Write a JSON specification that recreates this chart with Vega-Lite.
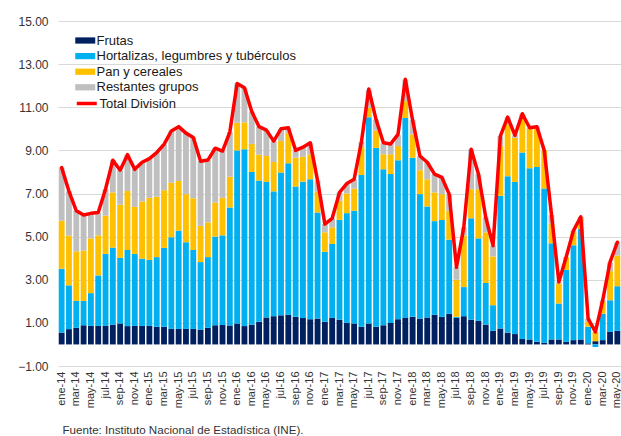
{
  "$schema": "https://vega.github.io/schema/vega-lite/v6.json",
  "width": 563,
  "height": 345,
  "autosize": {"type": "none"},
  "padding": {"left": 58, "top": 21, "right": 0, "bottom": 70},
  "background": "white",
  "config": {
    "view": {"stroke": null},
    "font": "Liberation Sans",
    "axis": {"labelFont": "Liberation Sans", "titleFont": "Liberation Sans"},
    "legend": {"labelFont": "Liberation Sans"}
  },
  "data": {"values": [
    {"m":"ene-14","F":0.55,"H":2.96,"P":2.23,"R":2.46,"T":8.2},
    {"m":"feb-14","F":0.71,"H":2.03,"P":2.31,"R":2.05,"T":7.1},
    {"m":"mar-14","F":0.77,"H":1.25,"P":2.30,"R":1.88,"T":6.2},
    {"m":"abr-14","F":0.89,"H":1.13,"P":2.33,"R":1.65,"T":6.0},
    {"m":"may-14","F":0.86,"H":1.52,"P":2.54,"R":1.16,"T":6.08},
    {"m":"jun-14","F":0.86,"H":2.34,"P":1.86,"R":1.06,"T":6.12},
    {"m":"jul-14","F":0.86,"H":3.34,"P":1.77,"R":1.23,"T":7.2},
    {"m":"ago-14","F":0.92,"H":3.57,"P":2.56,"R":1.49,"T":8.54},
    {"m":"sep-14","F":0.97,"H":3.05,"P":2.46,"R":1.6,"T":8.08},
    {"m":"oct-14","F":0.85,"H":3.53,"P":2.74,"R":1.68,"T":8.8},
    {"m":"nov-14","F":0.86,"H":3.34,"P":2.18,"R":1.74,"T":8.12},
    {"m":"dic-14","F":0.86,"H":3.12,"P":2.65,"R":1.82,"T":8.45},
    {"m":"ene-15","F":0.86,"H":3.06,"P":2.88,"R":1.82,"T":8.62},
    {"m":"feb-15","F":0.82,"H":3.23,"P":2.8,"R":2.05,"T":8.9},
    {"m":"mar-15","F":0.82,"H":3.66,"P":2.67,"R":2.13,"T":9.28},
    {"m":"abr-15","F":0.72,"H":4.25,"P":2.53,"R":2.4,"T":9.9},
    {"m":"may-15","F":0.72,"H":4.56,"P":2.3,"R":2.52,"T":10.1},
    {"m":"jun-15","F":0.72,"H":4.02,"P":2.23,"R":2.83,"T":9.8},
    {"m":"jul-15","F":0.72,"H":3.66,"P":2.4,"R":2.82,"T":9.6},
    {"m":"ago-15","F":0.69,"H":3.13,"P":1.68,"R":3.0,"T":8.5},
    {"m":"sep-15","F":0.77,"H":3.28,"P":1.61,"R":2.89,"T":8.55},
    {"m":"oct-15","F":0.89,"H":4.11,"P":1.58,"R":2.52,"T":9.1},
    {"m":"nov-15","F":0.9,"H":4.16,"P":1.74,"R":2.17,"T":8.97},
    {"m":"dic-15","F":0.88,"H":5.47,"P":1.43,"R":2.07,"T":9.85},
    {"m":"ene-16","F":0.97,"H":8.03,"P":1.28,"R":1.82,"T":12.1},
    {"m":"feb-16","F":0.85,"H":8.2,"P":1.25,"R":1.6,"T":11.9},
    {"m":"mar-16","F":0.92,"H":7.08,"P":1.3,"R":1.5,"T":10.8},
    {"m":"abr-16","F":1.05,"H":6.55,"P":1.2,"R":1.3,"T":10.1},
    {"m":"may-16","F":1.25,"H":6.29,"P":1.2,"R":1.2,"T":9.94},
    {"m":"jun-16","F":1.31,"H":5.79,"P":1.36,"R":0.97,"T":9.43},
    {"m":"jul-16","F":1.35,"H":6.62,"P":1.46,"R":0.57,"T":10.0},
    {"m":"ago-16","F":1.38,"H":7.02,"P":1.4,"R":0.25,"T":10.05},
    {"m":"sep-16","F":1.28,"H":6.04,"P":1.34,"R":0.34,"T":9.0},
    {"m":"oct-16","F":1.23,"H":6.32,"P":1.15,"R":0.45,"T":9.15},
    {"m":"nov-16","F":1.17,"H":6.49,"P":1.16,"R":0.53,"T":9.35},
    {"m":"dic-16","F":1.2,"H":4.92,"P":0.96,"R":0.52,"T":7.6},
    {"m":"ene-17","F":1.05,"H":3.25,"P":0.9,"R":0.38,"T":5.58},
    {"m":"feb-17","F":1.23,"H":3.43,"P":0.77,"R":0.42,"T":5.85},
    {"m":"mar-17","F":1.15,"H":4.63,"P":0.88,"R":0.39,"T":7.05},
    {"m":"abr-17","F":1.0,"H":5.09,"P":0.91,"R":0.46,"T":7.46},
    {"m":"may-17","F":0.97,"H":5.23,"P":1.03,"R":0.43,"T":7.66},
    {"m":"jun-17","F":0.82,"H":7.04,"P":1.29,"R":0.25,"T":9.4},
    {"m":"jul-17","F":0.97,"H":9.57,"P":0.43,"R":0.83,"T":11.85},
    {"m":"ago-17","F":0.82,"H":8.3,"P":0.8,"R":0.5,"T":10.43},
    {"m":"sep-17","F":0.89,"H":7.23,"P":0.7,"R":0.5,"T":9.35},
    {"m":"oct-17","F":1.0,"H":6.9,"P":0.92,"R":0.46,"T":9.3},
    {"m":"nov-17","F":1.17,"H":7.37,"P":0.66,"R":0.5,"T":9.74},
    {"m":"dic-17","F":1.23,"H":9.27,"P":0.78,"R":1.0,"T":12.3},
    {"m":"ene-18","F":1.28,"H":7.38,"P":1.08,"R":0.66,"T":10.4},
    {"m":"feb-18","F":1.2,"H":5.77,"P":1.11,"R":0.66,"T":8.74},
    {"m":"mar-18","F":1.25,"H":5.15,"P":1.26,"R":0.79,"T":8.45},
    {"m":"abr-18","F":1.38,"H":4.34,"P":1.33,"R":0.85,"T":7.9},
    {"m":"may-18","F":1.28,"H":4.49,"P":1.2,"R":0.78,"T":7.75},
    {"m":"jun-18","F":1.43,"H":3.43,"P":1.34,"R":0.77,"T":6.97},
    {"m":"jul-18","F":1.23,"H":0.05,"P":1.72,"R":0.58,"T":3.58},
    {"m":"ago-18","F":1.31,"H":1.35,"P":2.39,"R":0.38,"T":5.43},
    {"m":"sep-18","F":1.15,"H":4.7,"P":1.35,"R":1.85,"T":9.05},
    {"m":"oct-18","F":1.09,"H":3.83,"P":2.28,"R":0.7,"T":7.9},
    {"m":"nov-18","F":0.92,"H":1.93,"P":2.35,"R":0.7,"T":5.9},
    {"m":"dic-18","F":0.63,"H":1.19,"P":2.26,"R":0.5,"T":4.58},
    {"m":"ene-19","F":0.74,"H":6.16,"P":2.3,"R":0.46,"T":9.66},
    {"m":"feb-19","F":0.55,"H":7.25,"P":2.4,"R":0.34,"T":10.54},
    {"m":"mar-19","F":0.48,"H":7.06,"P":2.04,"R":0.12,"T":9.7},
    {"m":"abr-19","F":0.25,"H":8.65,"P":1.76,"R":0.04,"T":10.7},
    {"m":"may-19","F":0.23,"H":7.94,"P":1.83,"R":0.05,"T":10.05},
    {"m":"jun-19","F":0.12,"H":8.11,"P":1.77,"R":0.1,"T":10.1},
    {"m":"jul-19","F":0.08,"H":7.15,"P":1.77,"R":0.0,"T":9.0},
    {"m":"ago-19","F":0.23,"H":4.46,"P":0.91,"R":0.4,"T":6.0},
    {"m":"sep-19","F":0.23,"H":1.67,"P":0.92,"R":0.08,"T":2.9},
    {"m":"oct-19","F":0.12,"H":3.34,"P":0.59,"R":0.0,"T":4.05},
    {"m":"nov-19","F":0.2,"H":4.4,"P":0.6,"R":0.08,"T":5.28},
    {"m":"dic-19","F":0.23,"H":5.12,"P":0.5,"R":0.07,"T":5.92},
    {"m":"ene-20","F":0.05,"H":0.77,"P":0.23,"R":0.15,"T":1.2},
    {"m":"feb-20","F":0.15,"H":-0.12,"P":0.43,"R":0.0,"T":0.58},
    {"m":"mar-20","F":0.2,"H":1.23,"P":0.54,"R":0.08,"T":2.05},
    {"m":"abr-20","F":0.58,"H":1.47,"P":1.35,"R":0.4,"T":3.82},
    {"m":"may-20","F":0.63,"H":2.07,"P":1.42,"R":0.62,"T":4.74}
  ]},
  "encoding": {
    "x": {
      "field": "m", "type": "ordinal", "sort": null,
      "scale": {"paddingInner": 0.2, "paddingOuter": 0.1},
      "axis": {
        "labelAngle": -90, "labelFontSize": 11, "labelColor": "#333333",
        "labelPadding": 5, "ticks": false, "domain": false,
        "labelExpr": "test(/^(ene|mar|may|jul|sep|nov)/, datum.label) ? datum.label : ''",
        "title": "Fuente: Instituto Nacional de Estadística (INE).",
        "titleFontSize": 11.6, "titleFontWeight": "normal", "titleColor": "#333333",
        "titleX": 4, "titleY": 67, "titleAlign": "left", "titleBaseline": "alphabetic"
      }
    }
  },
  "layer": [
    {
      "transform": [{"fold": ["F", "H", "P", "R"], "as": ["k", "v"]}],
      "mark": {"type": "bar"},
      "encoding": {
        "y": {
          "field": "v", "type": "quantitative", "stack": "zero",
          "scale": {"domain": [-1, 15], "nice": false, "zero": false},
          "axis": {
            "values": [-1, 1, 3, 5, 7, 9, 11, 13, 15], "format": ".2f",
            "title": null, "domain": false, "ticks": false,
            "labelFontSize": 12, "labelColor": "#333333", "labelPadding": 10,
            "gridColor": "#D9D9D9", "gridWidth": 1
          }
        },
        "color": {
          "field": "k", "type": "nominal",
          "scale": {"domain": ["F", "H", "P", "R"], "range": ["#002060", "#00B0F0", "#FFC000", "#BFBFBF"]},
          "legend": {
            "title": null, "orient": "none", "legendX": 20.75, "legendY": 13,
            "padding": 0, "rowPadding": 1.6, "labelFontSize": 13, "labelColor": "#1a1a1a",
            "labelOffset": 4.75, "labelLimit": 400,
            "symbolType": "M-1.6,-0.5H1.6V0.5H-1.6Z", "symbolSize": 156, "symbolStrokeWidth": 0,
            "labelExpr": "datum.label == 'F' ? 'Frutas' : datum.label == 'H' ? 'Hortalizas, legumbres y tubérculos' : datum.label == 'P' ? 'Pan y cereales' : 'Restantes grupos'"
          }
        },
        "order": {"field": "k", "type": "nominal", "sort": "ascending"}
      }
    },
    {
      "mark": {"type": "line", "strokeWidth": 3.5, "strokeJoin": "round", "strokeCap": "round"},
      "encoding": {
        "y": {"field": "T", "type": "quantitative"},
        "color": {
          "datum": "Total División",
          "scale": {"domain": ["Total División"], "range": ["#FF0000"]},
          "legend": {
            "title": null, "orient": "none", "legendX": 20.75, "legendY": 74.5,
            "padding": 0, "labelFontSize": 13, "labelColor": "#1a1a1a", "labelOffset": 4.75,
            "symbolType": "M-1.6,0H1.6", "symbolSize": 156, "symbolStrokeWidth": 3.5
          }
        }
      }
    }
  ],
  "resolve": {"scale": {"color": "independent"}}
}
